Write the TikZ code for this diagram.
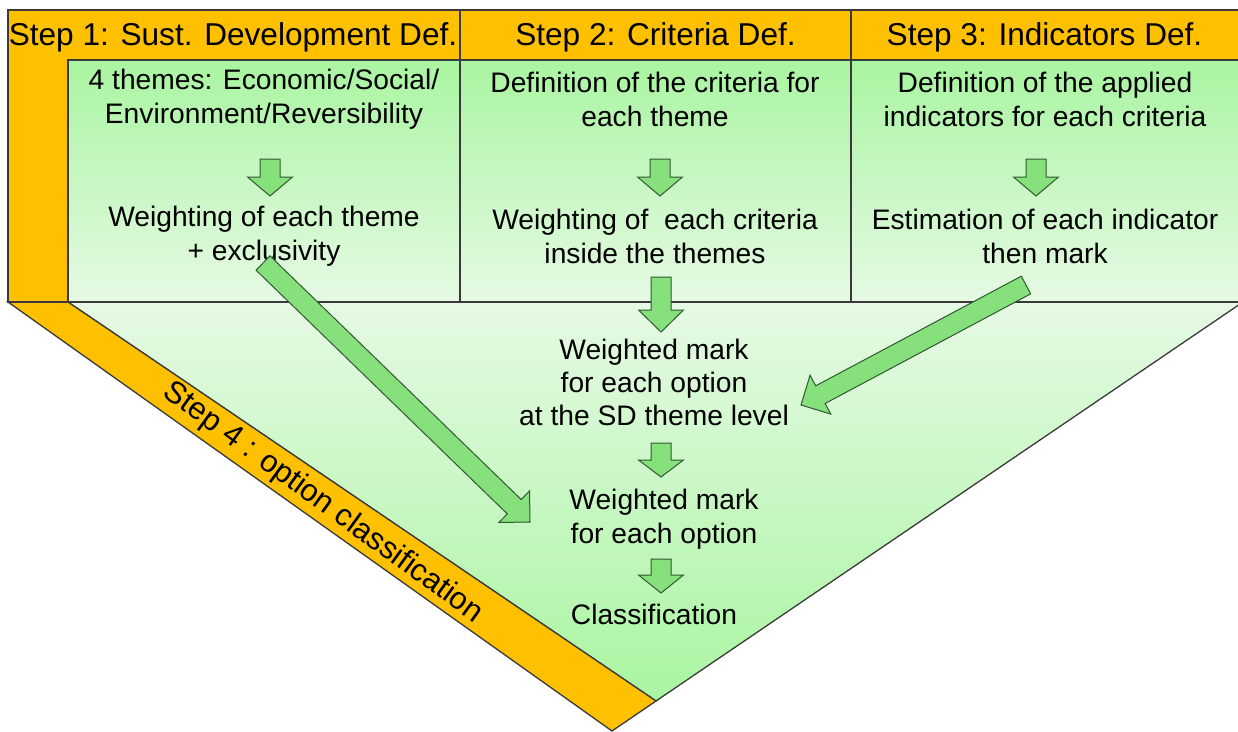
\documentclass[tikz,border=0pt]{standalone}
\usepackage{fontspec}
\setmainfont{Liberation Sans}
\usetikzlibrary{calc}
\definecolor{orng}{HTML}{FFC000}
\definecolor{grnA}{HTML}{A9F5A1}
\definecolor{grnB}{HTML}{E6F9E4}
\definecolor{arrfill}{HTML}{86E07C}
\definecolor{edgec}{HTML}{3A3A3A}
\tikzset{
  frame/.style={draw=edgec, line width=1.3pt, line join=miter},
  hdr/.style={font=\fontsize{31.6}{36}\selectfont, inner sep=0pt},
  body/.style={font=\fontsize{28.2}{34}\selectfont, align=center, inner sep=0pt},
  bodyc/.style={font=\fontsize{28.2}{33}\selectfont, align=center, inner sep=0pt},
  barrow/.style={fill=arrfill, draw=edgec!85!green, line width=1pt, line join=miter},
}
\newcommand\MyDownArrow[4]{%
  \draw[barrow] ({#1-10},#2) -- ({#1+10},#2) -- ({#1+10},{#3-#4}) -- ({#1+22.5},{#3-#4})
    -- (#1,#3) -- ({#1-22.5},{#3-#4}) -- ({#1-10},{#3-#4}) -- cycle;}
\newcommand\MyBlockArrow[2]{%
  \coordinate (bab) at ($(#2)!22pt!(#1)$);
  \draw[barrow] ($(#1)!10pt!90:(#2)$) -- ($(bab)!10pt!90:(#2)$) -- ($(bab)!22pt!90:(#2)$)
    -- (#2) -- ($(bab)!22pt!-90:(#2)$) -- ($(bab)!10pt!-90:(#2)$) -- ($(#1)!10pt!-90:(#2)$) -- cycle;}
\begin{document}
\begin{tikzpicture}[x=1pt,y=-1pt]
\useasboundingbox (0,0) rectangle (1238,731);
% bottom triangle and orange band
\shade[top color=grnB, bottom color=grnA] (68,302) -- (1243,302) -- (656,701) -- cycle;
\draw[frame] (68,302) -- (1243,302) -- (656,701) -- cycle;
\filldraw[frame, fill=orng] (8,302) -- (68,302) -- (656,701) -- (612,731) -- cycle;
% header and left band
\filldraw[frame, fill=orng] (8,10) -- (1243,10) -- (1243,60) -- (68,60) -- (68,302) -- (8,302) -- cycle;
% green boxes
\shade[top color=grnA, bottom color=grnB] (68,60) rectangle (1243,302);
\draw[frame] (68,60) rectangle (460,302);
\draw[frame] (460,60) rectangle (851,302);
\draw[frame] (851,60) rectangle (1243,302);
\draw[frame] (460,10) -- (460,60);
\draw[frame] (851,10) -- (851,60);
% headers
\node[hdr] (h1) at (233,37) {Step 1: Sust. Development Def.};
\node[hdr] (h2) at (655.5,37) {Step 2: Criteria Def.};
\node[hdr] (h3) at (1044.5,37) {Step 3: Indicators Def.};
% column texts
\node[body] (t1a) at (264,99) {4 themes: Economic/Social/\\Environment/Reversibility};
\node[body] (t1b) at (264,236) {Weighting of each theme\\+ exclusivity};
\node[body] (t2a) at (655,99) {Definition of the criteria for\\each theme};
\node[body] (t2b) at (655,236) {Weighting of \ each criteria\\inside the themes};
\node[body] (t3a) at (1045,99) {Definition of the applied\\indicators for each criteria};
\node[body] (t3b) at (1045,236) {Estimation of each indicator\\then mark};
% centre texts
\node[bodyc] (c1) at (654,382) {Weighted mark\\for each option\\at the SD theme level};
\node[body] (c2) at (664,519) {Weighted mark\\for each option};
\node[body] (c3) at (654,614) {Classification};
\node[font=\fontsize{31}{36}\selectfont, inner sep=0pt, rotate=-36] (s4) at (323,503) {Step 4 : option classification};
% small arrows
\MyDownArrow{270}{159}{196}{19}
\MyDownArrow{660}{159}{196}{19}
\MyDownArrow{1036}{159}{196}{19}
\MyDownArrow{661}{277}{332}{22}
\MyDownArrow{661}{443}{477}{17}
\MyDownArrow{661}{559}{593}{18}
% big arrows
\coordinate (aA1) at (263,263);
\coordinate (aA2) at (530,522);
\coordinate (aB1) at (1026,285);
\coordinate (aB2) at (801,405);
\MyBlockArrow{aA1}{aA2}
\MyBlockArrow{aB1}{aB2}
\end{tikzpicture}
\end{document}
